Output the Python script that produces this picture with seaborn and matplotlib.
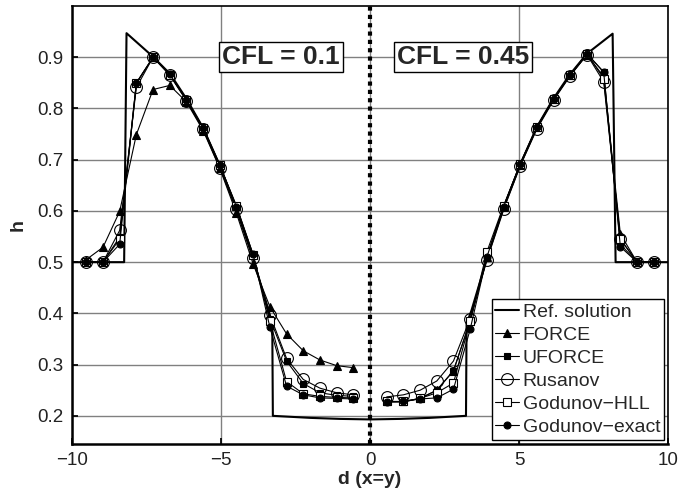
import matplotlib
matplotlib.use("Agg")
import matplotlib.pyplot as plt
import seaborn as sns
import pandas as pd

sns.set_theme(style="white")
plt.rcParams['font.family'] = ['Liberation Sans', 'DejaVu Sans']

# ---------------- data ----------------
d_left = [-9.52, -8.96, -8.40, -7.84, -7.28, -6.72, -6.16, -5.60, -5.04,
          -4.48, -3.92, -3.36, -2.80, -2.24, -1.68, -1.12, -0.56]
d_right = [0.56, 1.12, 1.68, 2.24, 2.80, 3.36, 3.92, 4.48, 5.04,
           5.60, 6.16, 6.72, 7.28, 7.84, 8.40, 8.96, 9.52]

force_left = [0.505, 0.529, 0.599, 0.749, 0.837, 0.845, 0.813, 0.757, 0.683,
              0.595, 0.496, 0.413, 0.360, 0.327, 0.309, 0.298, 0.294]
uforce_left = [0.5, 0.5, 0.549, 0.850, 0.900, 0.867, 0.817, 0.762, 0.689,
               0.607, 0.513, 0.390, 0.307, 0.263, 0.245, 0.240, 0.238]
rusanov_left = [0.5, 0.5, 0.562, 0.841, 0.900, 0.865, 0.815, 0.759, 0.684,
                0.603, 0.508, 0.397, 0.312, 0.271, 0.254, 0.245, 0.241]
hll_left = [0.5, 0.5, 0.545, 0.849, 0.900, 0.866, 0.817, 0.762, 0.689,
            0.610, 0.514, 0.385, 0.267, 0.243, 0.238, 0.236, 0.235]
exact_left = [0.5, 0.5, 0.535, 0.850, 0.900, 0.867, 0.817, 0.762, 0.690,
              0.608, 0.515, 0.373, 0.258, 0.241, 0.235, 0.234, 0.233]

force_right = [0.228, 0.228, 0.234, 0.250, 0.288, 0.385, 0.510, 0.607, 0.690,
               0.763, 0.818, 0.865, 0.905, 0.862, 0.555, 0.5, 0.5]
uforce_right = [0.227, 0.227, 0.234, 0.250, 0.288, 0.385, 0.510, 0.608, 0.692,
                0.764, 0.819, 0.866, 0.907, 0.871, 0.535, 0.5, 0.5]
rusanov_right = [0.237, 0.241, 0.250, 0.268, 0.307, 0.390, 0.505, 0.604, 0.688,
                 0.760, 0.816, 0.864, 0.905, 0.852, 0.545, 0.5, 0.5]
hll_right = [0.228, 0.228, 0.234, 0.245, 0.264, 0.385, 0.520, 0.610, 0.692,
             0.764, 0.819, 0.866, 0.907, 0.858, 0.545, 0.5, 0.5]
exact_right = [0.227, 0.228, 0.233, 0.235, 0.252, 0.369, 0.510, 0.608, 0.692,
               0.764, 0.819, 0.866, 0.907, 0.871, 0.530, 0.5, 0.5]

ref_d = [-10.0, -8.25, -8.17, -7.30, -6.70, -6.15, -5.60, -5.05, -4.50, -3.95,
         -3.40, -3.28, -3.26, -2.0, -1.0, 0.0, 1.0, 2.0, 3.22, 3.24, 3.40,
         3.95, 4.50, 5.05, 5.60, 6.15, 6.70, 7.28, 8.14, 8.24, 10.0]
ref_h = [0.5, 0.5, 0.947, 0.902, 0.867, 0.818, 0.762, 0.690, 0.606, 0.512,
         0.405, 0.380, 0.200, 0.196, 0.194, 0.193, 0.194, 0.196, 0.200, 0.380,
         0.405, 0.512, 0.608, 0.692, 0.764, 0.819, 0.866, 0.907, 0.946, 0.5, 0.5]

x_ticks = [-10, -5, 0, 5, 10]
y_ticks = [0.2, 0.3, 0.4, 0.5, 0.6, 0.7, 0.8, 0.9]
cfl_labels = ["CFL = 0.1", "CFL = 0.45"]

methods = {
    "FORCE": (force_left, force_right),
    "UFORCE": (uforce_left, uforce_right),
    "Rusanov": (rusanov_left, rusanov_right),
    "Godunov\u2212HLL": (hll_left, hll_right),
    "Godunov\u2212exact": (exact_left, exact_right),
}
styles = {
    "FORCE": dict(marker="^", markersize=6, markerfacecolor="black"),
    "UFORCE": dict(marker="s", markersize=4.5, markerfacecolor="black"),
    "Rusanov": dict(marker="o", markersize=8.5, markerfacecolor="none"),
    "Godunov\u2212HLL": dict(marker="s", markersize=5.5, markerfacecolor="white"),
    "Godunov\u2212exact": dict(marker="o", markersize=5, markerfacecolor="black"),
}

# ---------------- figure ----------------
fig = plt.figure(figsize=(6.81, 4.94), dpi=100)
ax = fig.add_axes([0.1057, 0.1012, 0.8753, 0.8866])

ax.grid(True, color="#808080", linewidth=1.0)
ax.set_axisbelow(True)

sns.lineplot(x=ref_d, y=ref_h, ax=ax, color="black", linewidth=1.5,
             sort=False, estimator=None, label="Ref. solution", zorder=3)

for name, (left, right) in methods.items():
    for i, (dd, hh) in enumerate([(d_left, left), (d_right, right)]):
        df = pd.DataFrame({"d": dd, "h": hh})
        sns.lineplot(data=df, x="d", y="h", ax=ax, color="black", linewidth=0.8,
                     markeredgecolor="black", markeredgewidth=0.8,
                     estimator=None, label=name if i == 0 else None,
                     zorder=4, **styles[name])

ax.axvline(0, color="black", linestyle=(0, (1, 1)), linewidth=3, zorder=2)

ax.set_xlim(-10, 10)
ax.set_ylim(0.145, 1.0)
ax.set_xticks(x_ticks)
ax.set_yticks(y_ticks)
ax.set_yticklabels([f"{v:.1f}" for v in y_ticks])
ax.tick_params(direction="in", length=4, labelsize=13.5, colors="black",
               left=True, bottom=True, pad=6)
for lbl in ax.get_xticklabels() + ax.get_yticklabels():
    lbl.set_color("#222222")

ax.set_xlabel("d (x=y)", fontsize=14, fontweight="bold", labelpad=1)
ax.set_ylabel("h", fontsize=14, fontweight="bold", labelpad=8)

for side, sp in ax.spines.items():
    sp.set_color("black")
    sp.set_linewidth(1.8 if side in ("left", "bottom") else 1.2)

box = dict(boxstyle="square,pad=0.12", facecolor="white", edgecolor="black",
           linewidth=1.0)
ax.text(-3.0, 0.9006, cfl_labels[0], fontsize=19, fontweight="bold",
        ha="center", va="center", bbox=box, zorder=6)
ax.text(3.12, 0.9006, cfl_labels[1], fontsize=19, fontweight="bold",
        ha="center", va="center", bbox=box, zorder=6)

leg = ax.legend(loc="lower right", fontsize=14, frameon=True, fancybox=False,
                edgecolor="black", framealpha=1, borderpad=0.2,
                labelspacing=0.28, handlelength=1.2, handletextpad=0.2,
                borderaxespad=0.2)
leg.get_frame().set_linewidth(1.0)
leg.set_zorder(10)

fig.savefig("out.png", dpi=100)
